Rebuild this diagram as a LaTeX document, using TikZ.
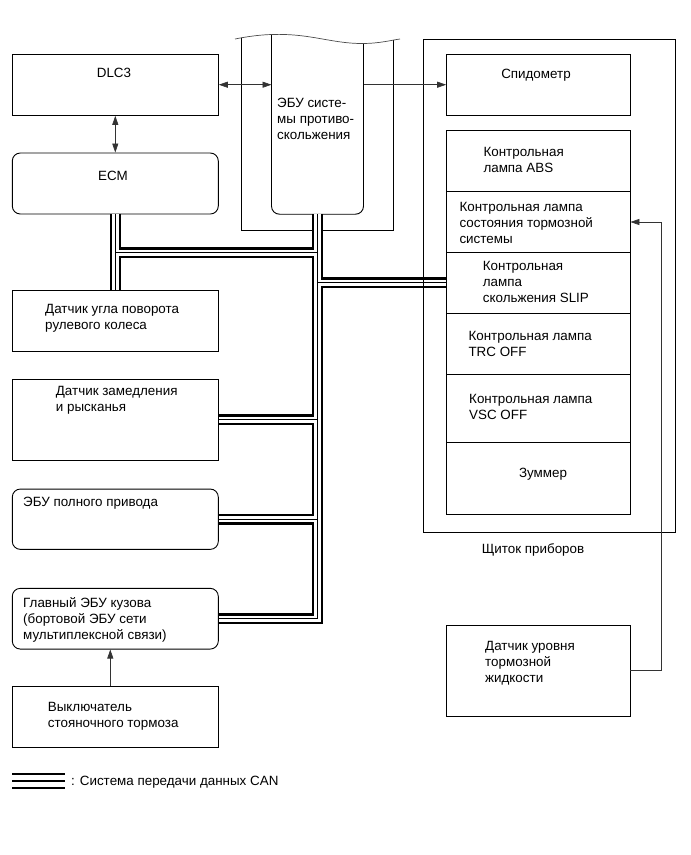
\documentclass[tikz,border=0pt]{standalone}
\usepackage{fontspec}
\setmainfont{Liberation Sans}
\usetikzlibrary{arrows.meta}
\tikzset{
  box/.style={draw, line width=0.9pt, inner sep=0pt, minimum width=206pt},
  rbox/.style={box, rounded corners=8pt},
  lamp/.style={draw, line width=0.9pt, inner sep=0pt, minimum width=183.3pt},
  txt/.style={inner sep=0pt, anchor=north west, align=left, font=\fontsize{13.4}{16}\selectfont},
  ctxt/.style={txt, anchor=north, align=center},
  sig/.style={line width=0.7pt, draw=black!80},
  tip/.style={-{Triangle[length=9pt,width=6pt]}},
  both/.style={{Triangle[length=9pt,width=6pt]}-{Triangle[length=9pt,width=6pt]}},
}
\begin{document}
\begin{tikzpicture}[x=1pt, y=-1pt]
  \useasboundingbox (0,0) rectangle (691,855);

  % ABS ECU, cut off at the top
  \node[minimum width=91.6pt, minimum height=174pt, inner sep=0pt] (abs) at (317.5,127) {};
  \begin{scope}
    \clip (235,39) .. controls (255,35) and (270,34) .. (285,34.5)
      .. controls (315,35.5) and (335,43.5) .. (362,43.5)
      .. controls (380,43.5) and (392,40) .. (400,39) -- (400,260) -- (230,260) -- cycle;
    \draw[line width=0.9pt] (241,20) -- (241,230) -- (393,230) -- (393,20);
    \draw[line width=0.9pt, rounded corners=8pt] (abs.west |- 0,20) -- (abs.south west)
      -- (abs.south east) -- (abs.east |- 0,20);
  \end{scope}
  \draw[line width=0.7pt, draw=black!70] (235,39) .. controls (255,35) and (270,34) .. (285,34.5)
    .. controls (315,35.5) and (335,43.5) .. (362,43.5)
    .. controls (380,43.5) and (392,40) .. (400,39);

  % left column
  \node[box, minimum height=61.3pt] (dlc) at (115.3,84.7) {};
  \node[rbox, minimum height=61pt] (ecm) at (115.3,183.5) {};
  \node[box, minimum height=61pt] (steer) at (115.3,321.2) {};
  \node[box, minimum height=81pt] (yaw) at (115.3,419.8) {};
  \node[rbox, minimum height=60.3pt] (awd) at (115.3,519.2) {};
  \node[rbox, minimum height=60.7pt] (body) at (115.3,618.7) {};
  \node[box, minimum height=61.7pt] (pkb) at (115.3,716.8) {};

  % combination meter
  \node[lamp, minimum height=61.3pt] (speedo) at (538.3,84.7) {};
  \node[lamp, minimum height=61pt] (lampabs) at (538.3,161.2) {};
  \node[lamp, minimum height=60.6pt] (lampbrake) at (538.3,222) {};
  \node[lamp, minimum height=61pt] (lampslip) at (538.3,282.8) {};
  \node[lamp, minimum height=61pt] (lamptrc) at (538.3,343.8) {};
  \node[lamp, minimum height=68.4pt] (lampvsc) at (538.3,408.5) {};
  \node[lamp, minimum height=71.6pt] (buzzer) at (538.3,478.5) {};
  \node[lamp, minimum height=91.7pt] (fluid) at (538.3,670.8) {};

  % CAN lines
  \coordinate (j1) at (ecm.south |- 0,252.8);
  \foreach \w/\c in {11pt/black, 6.4pt/white, 0.9pt/black}
    \draw[line width=\w, draw=\c, line join=miter]
      (ecm.south) -- (steer.north)
      (j1) -- (j1 -| abs.south)
      (abs.south) -- (body.east -| abs.south) -- (body.east)
      (yaw.east) -- (yaw.east -| abs.south)
      (awd.east) -- (awd.east -| abs.south)
      (lampslip.west -| abs.south) -- (lampslip.west);

  \node[draw, line width=0.9pt, inner sep=0pt, minimum width=251.7pt, minimum height=493.7pt] (cluster) at (549.2,285.9) {};

  % signals
  \draw[sig, both] (dlc.south) -- (ecm.north);
  \draw[sig, both] (dlc.east) -- (dlc.east -| abs.west);
  \draw[sig, tip] (abs.east |- speedo.west) -- (speedo.west);
  \draw[sig, tip] ([xshift=-5pt]pkb.north) -- ([xshift=-5pt]body.south);
  \draw[sig, tip] (fluid.east) -- ++(30.7,0) |- (lampbrake.east);

  % texts
  \node[ctxt] (dlc-t) at (114,68.3) {DLC3};
  \node[ctxt] (ecm-t) at (113,171.3) {ECM};
  \node[txt] (abs-t) at (277,98.3) {ЭБУ систе-\\мы противо-\\скольжения};
  \node[ctxt] (speedo-t) at (536,69.3) {Спидометр};
  \node[txt] (lampabs-t) at (483.3,147) {Контрольная\\лампа ABS};
  \node[txt] (lampbrake-t) at (459.3,202) {Контрольная лампа\\состояния тормозной\\системы};
  \node[txt] (lampslip-t) at (482.7,261) {Контрольная\\лампа\\скольжения SLIP};
  \node[txt] (lamptrc-t) at (468.3,331.3) {Контрольная лампа\\TRC OFF};
  \node[txt] (lampvsc-t) at (469,394.3) {Контрольная лампа\\VSC OFF};
  \node[ctxt] (buzzer-t) at (543,468.3) {Зуммер};
  \node[ctxt] (cluster-t) at (533,543.3) {Щиток приборов};
  \node[txt] (steer-t) at (45,304.3) {Датчик угла поворота\\рулевого колеса};
  \node[txt] (yaw-t) at (55.7,386.3) {Датчик замедления\\и рысканья};
  \node[txt] (awd-t) at (23,497.3) {ЭБУ полного привода};
  \node[txt] (body-t) at (23,597) {Главный ЭБУ кузова\\(бортовой ЭБУ сети\\мультиплексной связи)};
  \node[txt] (pkb-t) at (47.7,702) {Выключатель\\стояночного тормоза};
  \node[txt] (fluid-t) at (485,641) {Датчик уровня\\тормозной\\жидкости};

  % legend
  \coordinate (lega) at (12.3,781);
  \coordinate (legb) at (65,781);
  \draw[line width=2.5pt] ([yshift=7pt]lega) -- ([yshift=7pt]legb);
  \draw[line width=1.2pt] (lega) -- (legb);
  \draw[line width=2.5pt] ([yshift=-7pt]lega) -- ([yshift=-7pt]legb);
  \node[txt] (leg-t) at (71,776.3) {: Система передачи данных CAN};
\end{tikzpicture}
\end{document}
